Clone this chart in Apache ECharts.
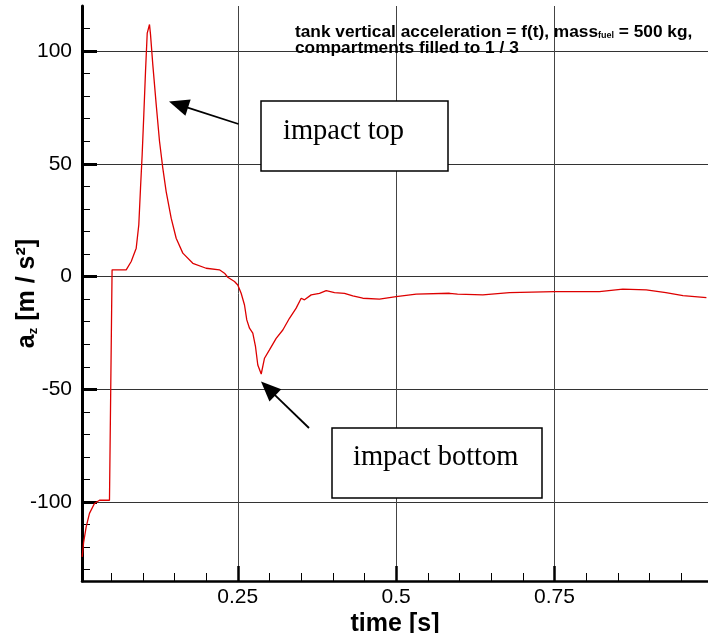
<!DOCTYPE html>
<html><head><meta charset="utf-8">
<script src="https://cdn.jsdelivr.net/npm/echarts@6/dist/echarts.min.js"></script>
<style>html,body{margin:0;padding:0;background:#fff;overflow:hidden}#c{width:708px;height:633px}</style>
</head><body><div id="c"></div>
<script>
// ---- data ----
const time = [0.0043, 0.0065, 0.0106, 0.0158, 0.0237, 0.0316, 0.0474, 0.0495, 0.0515, 0.0738, 0.0817, 0.0896, 0.0937, 0.0964, 0.099, 0.1016, 0.1043, 0.107, 0.1106, 0.1122, 0.1158, 0.1212, 0.1264, 0.1316, 0.1369, 0.1448, 0.1527, 0.1632, 0.179, 0.2, 0.221, 0.229, 0.2342, 0.2448, 0.25, 0.2553, 0.2606, 0.2642, 0.2685, 0.2737, 0.278, 0.2816, 0.287, 0.2922, 0.3, 0.3106, 0.3211, 0.3316, 0.3422, 0.3501, 0.3553, 0.3659, 0.379, 0.3896, 0.4027, 0.4185, 0.4316, 0.4474, 0.4737, 0.5, 0.5317, 0.5843, 0.597, 0.637, 0.679, 0.75, 0.821, 0.858, 0.895, 0.926, 0.953, 0.99];
const accel = [-124.3, -118, -111, -105, -100.6, -99.2, -99.2, -99.2, 3.0, 3.0, 6.7, 12.6, 23, 39.3, 54, 71.8, 91, 108, 111.8, 107.3, 94, 76.2, 60, 48.1, 37.7, 25.9, 17, 10.4, 5.9, 3.7, 3.0, 1.5, -0.3, -2.2, -3.7, -7.4, -12.6, -19.2, -22.9, -25.1, -31.1, -39.2, -43.2, -36.2, -32.5, -27.4, -23.7, -18.5, -14, -9.6, -10.3, -8.1, -7.4, -6.2, -7.1, -7.4, -8.6, -9.6, -10.0, -8.9, -7.8, -7.4, -7.8, -8.1, -7.1, -6.7, -6.7, -5.6, -5.9, -7.1, -8.4, -9.3];
const xMajorTicks = [0.25, 0.5, 0.75];
const xMinorTicks = [0.05, 0.1, 0.15, 0.2, 0.25, 0.3, 0.35, 0.4, 0.45, 0.5, 0.55, 0.6, 0.65, 0.7, 0.75, 0.8, 0.85, 0.9, 0.95];
const yMajorTicks = [-100, -50, 0, 50, 100];
const yMinorTicks = [-130, -120, -110, -100, -90, -80, -70, -60, -50, -40, -30, -20, -10, 0, 10, 20, 30, 40, 50, 60, 70, 80, 90, 100, 110];
const xRange = [0.004, 0.9925];
const yRange = [-135, 120];

// ---- chart ----
const SANS = "'Liberation Sans', Arial, sans-serif";
const SERIF = "'Liberation Serif', 'Times New Roman', serif";
const chart = echarts.init(document.getElementById('c'), null, {renderer: 'canvas'});

function arrow(tail, tip, L, W) {
  const dx = tip[0] - tail[0], dy = tip[1] - tail[1];
  const len = Math.hypot(dx, dy);
  const ux = dx / len, uy = dy / len;
  const bx = tip[0] - ux * L, by = tip[1] - uy * L;
  const nx = -uy, ny = ux;
  return [
    {type: 'line', z: 100, shape: {x1: tail[0], y1: tail[1], x2: bx + ux * 2, y2: by + uy * 2}, style: {stroke: '#000', lineWidth: 1.8}},
    {type: 'polygon', z: 100, shape: {points: [tip, [bx + nx * W, by + ny * W], [bx - nx * W, by - ny * W]]}, style: {fill: '#000'}}
  ];
}

const option = {
  animation: false,
  backgroundColor: '#fff',
  title: {
    left: 295, top: 24, padding: 0,
    text: '{b|tank vertical acceleration = f(t), mass}{s|fuel}{b| = 500 kg,}\n{b|compartments filled to 1 / 3}',
    textStyle: {
      rich: {
        b: {fontFamily: SANS, fontWeight: 'bold', fontSize: 17.3, color: '#000', lineHeight: 16},
        s: {fontFamily: SANS, fontWeight: 'bold', fontSize: 9, color: '#000', lineHeight: 16, verticalAlign: 'bottom'}
      }
    }
  },
  grid: {left: 82, top: 6, right: 0, bottom: 52, containLabel: false, outerBoundsMode: 'none'},
  xAxis: [{
    type: 'value', position: 'bottom', min: xRange[0], max: xRange[1],
    name: 'time [s]', nameLocation: 'middle', nameGap: 31, nameMoveOverlap: false,
    nameTextStyle: {fontFamily: SANS, fontWeight: 'bold', fontSize: 25, color: '#000'},
    axisLine: {show: true, onZero: false, lineStyle: {color: '#000', width: 2.5}},
    axisTick: {show: true, inside: true, length: 15, customValues: xMajorTicks, lineStyle: {color: '#000', width: 2.5}},
    axisLabel: {show: true, customValues: xMajorTicks, margin: 6, fontFamily: SANS, fontSize: 21, color: '#000'},
    splitLine: {show: true, lineStyle: {color: '#444', width: 1}}
  }, {
    type: 'value', position: 'bottom', min: xRange[0], max: xRange[1],
    axisLine: {show: false, onZero: false},
    axisTick: {show: true, inside: true, length: 8, customValues: xMinorTicks, lineStyle: {color: '#000', width: 1}},
    axisLabel: {show: false},
    splitLine: {show: false}
  }],
  yAxis: [{
    type: 'value', position: 'left', min: yRange[0], max: yRange[1],
    name: '{a|a}{z|z}{a| [m / s²]}', nameLocation: 'middle', nameGap: 42, nameMoveOverlap: false,
    nameTextStyle: {
      rich: {
        a: {fontFamily: SANS, fontWeight: 'bold', fontSize: 25, color: '#000', lineHeight: 26},
        z: {fontFamily: SANS, fontWeight: 'bold', fontSize: 13, color: '#000', lineHeight: 26, verticalAlign: 'bottom'}
      }
    },
    axisLine: {show: true, onZero: false, lineStyle: {color: '#000', width: 3}},
    axisTick: {show: true, inside: true, length: 15, customValues: yMajorTicks, lineStyle: {color: '#000', width: 3}},
    axisLabel: {show: true, customValues: yMajorTicks, margin: 10, fontFamily: SANS, fontSize: 21, color: '#000'},
    splitLine: {show: true, lineStyle: {color: '#333', width: 1}}
  }, {
    type: 'value', position: 'left', min: yRange[0], max: yRange[1],
    axisLine: {show: false, onZero: false},
    axisTick: {show: true, inside: true, length: 8, customValues: yMinorTicks, lineStyle: {color: '#000', width: 1}},
    axisLabel: {show: false},
    splitLine: {show: false}
  }],
  series: [{
    type: 'line', xAxisIndex: 0, yAxisIndex: 0,
    data: time.map((t, i) => [t, accel[i]]),
    showSymbol: false, symbol: 'none',
    lineStyle: {color: '#dd0000', width: 1.3},
    z: 5
  }],
  graphic: [
    {type: 'rect', z: 100, shape: {x: 261, y: 101, width: 187, height: 70}, style: {fill: '#fff', stroke: '#000', lineWidth: 1.5}},
    {type: 'text', z: 101, x: 283, y: 132, style: {text: 'impact top', font: '28.5px ' + SERIF, fill: '#000', textVerticalAlign: 'middle'}},
    {type: 'rect', z: 100, shape: {x: 332, y: 428, width: 210, height: 70}, style: {fill: '#fff', stroke: '#000', lineWidth: 1.5}},
    {type: 'text', z: 101, x: 353, y: 458, style: {text: 'impact bottom', font: '28.5px ' + SERIF, fill: '#000', textVerticalAlign: 'middle'}},
    ...arrow([238.5, 124], [169, 101.5], 20, 8.5),
    ...arrow([309, 428], [261, 381.5], 20, 8.5)
  ]
};
chart.setOption(option);
</script>
</body></html>
